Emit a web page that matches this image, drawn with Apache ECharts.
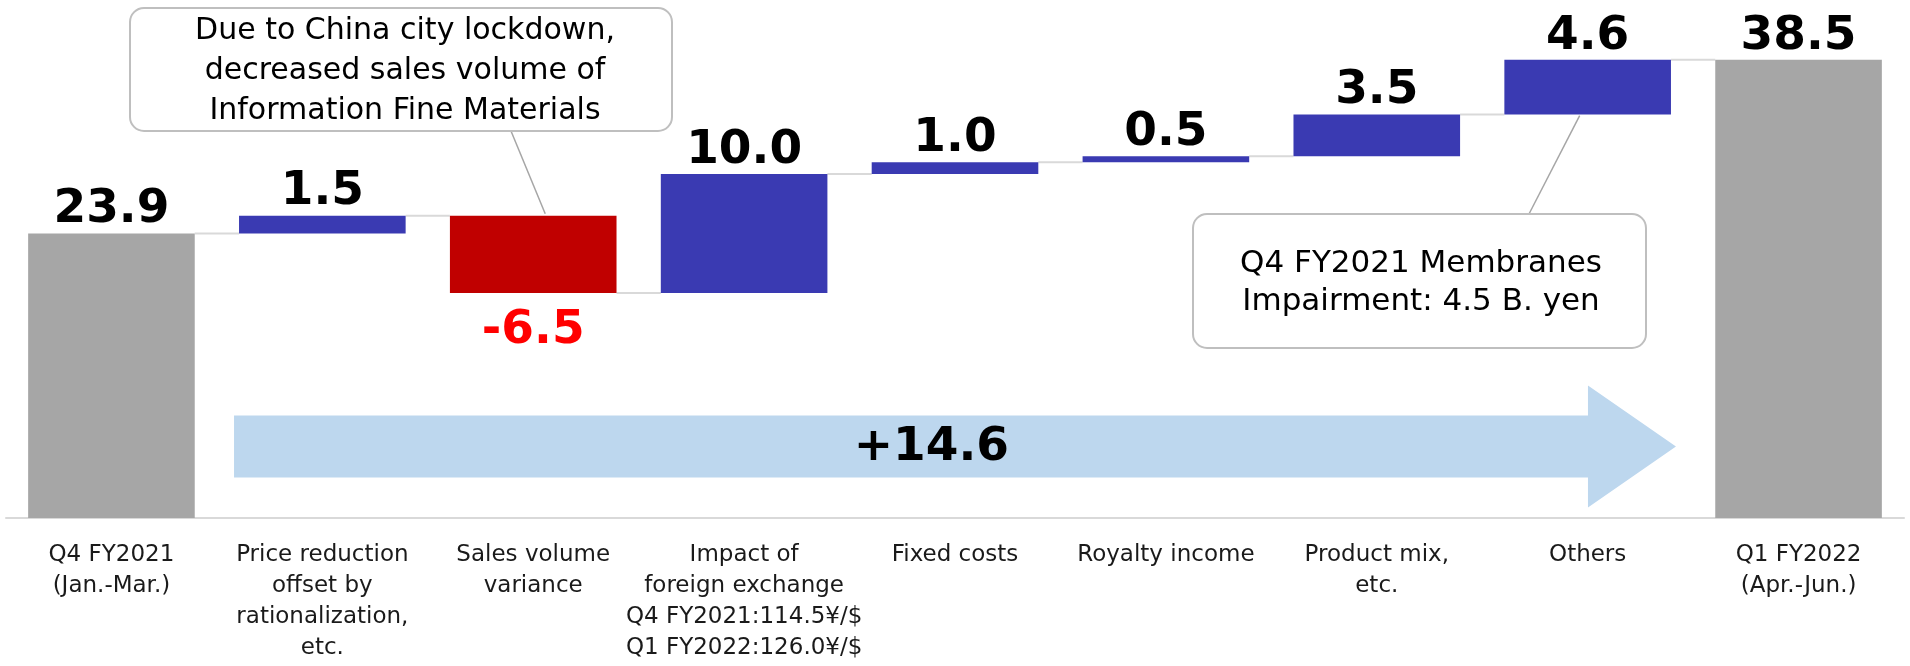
<!DOCTYPE html>
<html><head><meta charset="utf-8">
<script src="https://cdn.jsdelivr.net/npm/echarts@6/dist/echarts.min.js"></script>
<style>html,body{margin:0;padding:0;background:#fff}#c{width:1910px;height:666px}</style>
</head><body><div id="c"></div>
<script>
const categories = [
  'Q4 FY2021\n(Jan.-Mar.)',
  'Price reduction\noffset by\nrationalization,\netc.',
  'Sales volume\nvariance',
  'Impact of\nforeign exchange\nQ4 FY2021:114.5¥/$\nQ1 FY2022:126.0¥/$',
  'Fixed costs',
  'Royalty income',
  'Product mix,\netc.',
  'Others',
  'Q1 FY2022\n(Apr.-Jun.)'
];
const startValue = 23.9;
const deltas = [1.5, -6.5, 10.0, 1.0, 0.5, 3.5, 4.6];
const endValue = 38.5;
const totalChangeLabel = '+14.6';
const noteLockdown = 'Due to China city lockdown,\ndecreased sales volume of\nInformation Fine Materials';
const noteMembranes = 'Q4 FY2021 Membranes\nImpairment: 4.5 B. yen';

const FONT = '"DejaVu Sans", Verdana, sans-serif';
const GRAY = '#a6a6a6', BLUE = '#3a3ab2', RED = '#c00000';
const GAP = 0.21;

// build waterfall
const base = [0], vis = [], levels = [startValue];
vis.push({value: startValue, itemStyle:{color: GRAY}, raw: startValue});
let cur = startValue;
deltas.forEach(d => {
  const next = +(cur + d).toFixed(1);
  base.push(Math.min(cur, next));
  const item = {value: Math.abs(d), raw: d, itemStyle:{color: d < 0 ? RED : BLUE}};
  if (d < 0) item.label = {position:'bottom', color:'#ff0000', distance: 14};
  vis.push(item);
  cur = next;
  levels.push(cur);
});
base.push(0);
vis.push({value: endValue, itemStyle:{color: GRAY}, raw: endValue});
const connectors = levels.map((v, i) => [i, v]);

const chart = echarts.init(document.getElementById('c'), null, {renderer:'canvas'});
chart.setOption({
  animation: false,
  grid: {left: 6, right: 6, top: 42, bottom: 148, containLabel: false},
  xAxis: {
    type: 'category', data: categories,
    axisLine: {lineStyle: {color: '#d9d9d9', width: 2}},
    axisTick: {show: false},
    axisLabel: {interval: 0, margin: 22, fontFamily: FONT, fontSize: 23, lineHeight: 31, color: '#1a1a1a', align: 'center'}
  },
  yAxis: {type: 'value', min: 0, max: 40, show: false, splitLine: {show: false}},
  series: [
    {type: 'custom', data: connectors, z: 1, silent: true,
      renderItem(params, api) {
        const i = api.value(0), v = api.value(1);
        const p0 = api.coord([i, v]), p1 = api.coord([i + 1, v]);
        const half = api.size([1, 0])[0] * (1 - GAP) / 2;
        return {type: 'line', shape: {x1: p0[0] + half, y1: p0[1], x2: p1[0] - half, y2: p1[1]},
          style: {stroke: '#d9d9d9', lineWidth: 2}};
      }},
    {type: 'bar', stack: 'w', data: base, itemStyle: {color: 'transparent'}, barCategoryGap: '21%', silent: true, z: 2},
    {type: 'bar', stack: 'w', data: vis, barCategoryGap: '21%', z: 3,
      label: {show: true, position: 'top', distance: 0, fontFamily: FONT, fontWeight: 'bold', fontSize: 47, lineHeight: 47, color: '#000',
        formatter: p => { const r = vis[p.dataIndex].raw; return r.toFixed(1); }}}
  ]
});

function px(cat, val) { return chart.convertToPixel({gridIndex: 0}, [cat, val]); }
const band = px(1, 0)[0] - px(0, 0)[0];
const half = band * (1 - GAP) / 2;

// total change arrow from the 2nd bar's left edge to the 8th bar's right edge
const arrowY = px(0, 6)[1];
const aLeft = px(1, 0)[0] - half - 5;
const aTip = px(7, 0)[0] + half + 5;
const aHead = aTip - 88;
const bodyH = 31, headH = 61;

// leader endpoints on bars
const redTop = px(2, levels[1]);
const othersBottom = px(7, levels[6]);

chart.setOption({
  graphic: [
    {type: 'polygon', z: 0, shape: {points: [
      [aLeft, arrowY - bodyH], [aHead, arrowY - bodyH], [aHead, arrowY - headH], [aTip, arrowY],
      [aHead, arrowY + headH], [aHead, arrowY + bodyH], [aLeft, arrowY + bodyH]]},
      style: {fill: '#bdd7ee'}},
    {type: 'text', z: 5, x: aLeft + (aHead - aLeft) * 0.515, y: arrowY + 1,
      style: {text: totalChangeLabel, font: 'bold 47px ' + FONT, fill: '#000', textAlign: 'center', textVerticalAlign: 'middle'}},
    {type: 'line', z: 4, shape: {x1: 511, y1: 131, x2: redTop[0] + 12, y2: redTop[1] - 2}, style: {stroke: '#a6a6a6', lineWidth: 1.5}},
    {type: 'rect', z: 5, shape: {x: 130, y: 8, width: 542, height: 123, r: 14}, style: {fill: '#fff', stroke: '#bfbfbf', lineWidth: 2}},
    {type: 'text', z: 6, x: 405, y: 71,
      style: {text: noteLockdown, font: '30px ' + FONT, fill: '#000', textAlign: 'center', textVerticalAlign: 'middle', lineHeight: 40}},
    {type: 'line', z: 4, shape: {x1: othersBottom[0] - 8, y1: othersBottom[1] + 1, x2: 1529, y2: 214}, style: {stroke: '#a6a6a6', lineWidth: 1.5}},
    {type: 'rect', z: 5, shape: {x: 1193, y: 214, width: 453, height: 134, r: 14}, style: {fill: '#fff', stroke: '#bfbfbf', lineWidth: 2}},
    {type: 'text', z: 6, x: 1421, y: 283,
      style: {text: noteMembranes, font: '31px ' + FONT, fill: '#000', textAlign: 'center', textVerticalAlign: 'middle', lineHeight: 38}}
  ]
});
</script></body></html>
